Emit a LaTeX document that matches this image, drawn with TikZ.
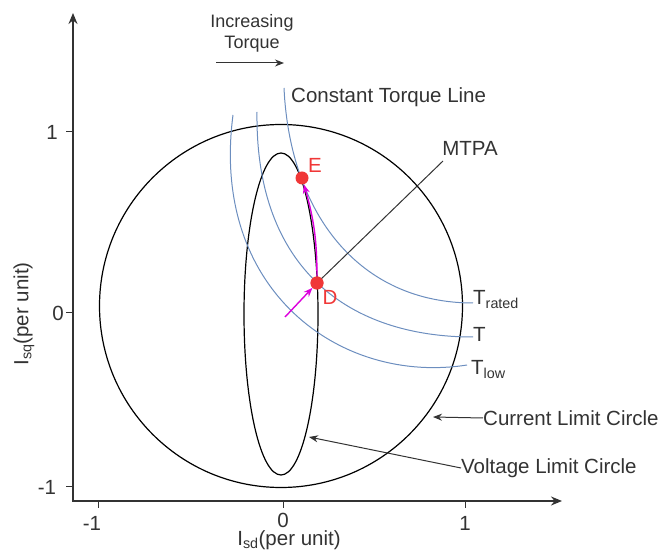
\documentclass[tikz,border=0pt]{standalone}
\usepackage{fontspec}
\setmainfont{Liberation Sans}
\usetikzlibrary{arrows.meta}
\definecolor{tq}{RGB}{108,142,191}
\definecolor{ptred}{RGB}{240,55,55}
\definecolor{mag}{RGB}{220,0,220}
\definecolor{txt}{RGB}{51,51,51}
\begin{document}
\begin{tikzpicture}[x=1pt,y=-1pt,
  lbl/.style={font=\fontsize{20.5}{24}\selectfont, text=txt, inner sep=0pt},
  smalllbl/.style={font=\fontsize{18}{21}\selectfont, text=txt, inner sep=0pt, align=center},
  axisline/.style={line width=1.7pt, draw=txt},
  tickline/.style={line width=1pt, draw=txt},
  tqline/.style={draw=tq, line width=1pt},
  shapeline/.style={draw=black, line width=1.2pt},
  ptdot/.style={circle, fill=ptred, minimum size=13pt, inner sep=0pt},
  ptlbl/.style={lbl, text=ptred},
  magarrow/.style={-{Stealth[length=9pt,width=7pt]}, draw=mag, line width=1.4pt},
  conn/.style={-{Stealth[length=9pt,width=7pt]}, line width=1pt, draw=txt}
]
\useasboundingbox (0,0) rectangle (665,553);

% axes
\coordinate (O) at (73,501);
\coordinate (Ytop) at (73,13);
\coordinate (Xend) at (562,501);
\draw[axisline, {Stealth[length=11pt,width=9pt]}-{Stealth[length=11pt,width=9pt]}] (Ytop) -- (O) -- (Xend);

% ticks
\draw[tickline] (66,132) -- (73,132);
\draw[tickline] (66,313) -- (73,313);
\draw[tickline] (66,487) -- (73,487);
\draw[tickline] (98,501) -- (98,508);
\draw[tickline] (283,501) -- (283,508);
\draw[tickline] (465,501) -- (465,508);

\node[lbl] (y1) at (52,132) {1};
\node[lbl] (y0) at (58,313) {0};
\node[lbl] (ym1) at (47,487) {-1};
\node[lbl] (xm1) at (92,523) {-1};
\node[lbl] (x0) at (283,520) {0};
\node[lbl] (x1) at (465,523) {1};

\node[lbl] (xlab) at (289,540) {I\textsubscript{sd}(per unit)};
\node[lbl, rotate=90] (ylab) at (24,314) {I\textsubscript{sq}(per unit)};

% increasing torque
\node[smalllbl] (inc) at (252,33) {Increasing\\Torque};
\coordinate (ia) at (216,63);
\coordinate (ib) at (284,63);
\draw[conn] (ia) -- (ib);

% current limit circle and voltage limit ellipse
\draw[shapeline] (281,306) ellipse[x radius=181.5, y radius=181.5];
\draw[shapeline] (281,314) ellipse[x radius=37, y radius=161];

% constant torque lines
\draw[tqline] (284,88) .. controls (290,215) and (360,303) .. (473,303);
\draw[tqline] (257,112) .. controls (255,270) and (350,337) .. (473,337);
\draw[tqline] (233,115) .. controls (210,290) and (340,385) .. (467,365);

\node[lbl, anchor=base west] (Tr) at (473,305) {T\textsubscript{rated}};
\node[lbl, anchor=base west] (Tm) at (473,342) {T};
\node[lbl, anchor=base west] (Tl) at (471,375) {T\textsubscript{low}};

\node[lbl, anchor=west] (ctl) at (291,97) {Constant Torque Line};

% points
\node[ptdot] (E) at (302,178) {};
\node[ptdot] (D) at (317,283) {};

% MTPA
\node[lbl] (mtpa) at (470,148) {MTPA};
\coordinate (mt) at (443,161);
\draw[line width=1pt, draw=txt] (D.center) -- (mt);

% magenta arrows
\coordinate (ms) at (285,317);
\draw[magarrow] (ms) -- (D);
\draw[magarrow] (D) to[bend right=8] (E);

\node[ptdot] at (D) {};
\node[ptlbl] (Elab) at (315,165) {E};
\node[ptlbl] (Dlab) at (330,297) {D};

% limit labels
\node[lbl, anchor=west] (cur) at (483,418) {Current Limit Circle};
\coordinate (cl) at (433,417);
\draw[conn] (cur.west) -- (cl);
\node[lbl, anchor=west] (vol) at (461,468) {Voltage Limit Circle};
\coordinate (vl) at (309,437);
\draw[conn] (vol.west) -- (vl);
\end{tikzpicture}
\end{document}
